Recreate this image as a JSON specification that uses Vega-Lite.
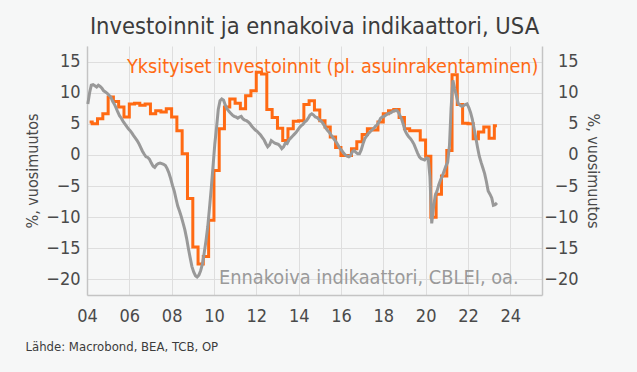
{
  "$schema": "https://vega.github.io/schema/vega-lite/v6.json",
  "width": 455,
  "height": 249,
  "autosize": {"type": "none"},
  "padding": {"left": 87, "top": 46, "right": 95, "bottom": 77},
  "background": "#f6f7f7",
  "title": {
    "text": "Investoinnit ja ennakoiva indikaattori, USA",
    "fontSize": 23.5,
    "fontWeight": "normal",
    "color": "#3c3c3c",
    "font": "DejaVu Sans Condensed",
    "anchor": "middle",
    "offset": 8
  },
  "config": {
    "view": {"stroke": null},
    "font": "DejaVu Sans Condensed"
  },
  "resolve": {"axis": {"y": "independent"}},
  "layer": [
    {
      "data": {"values": [
        {"d":"2004-02-15","v":5.3},{"d":"2004-05-15","v":5.0},{"d":"2004-08-15","v":5.8},{"d":"2004-11-15","v":6.6},
        {"d":"2005-02-15","v":9.3},{"d":"2005-05-15","v":8.6},{"d":"2005-08-15","v":7.7},{"d":"2005-11-15","v":6.1},
        {"d":"2006-02-15","v":8.2},{"d":"2006-05-15","v":8.3},{"d":"2006-08-15","v":8.0},{"d":"2006-11-15","v":8.2},
        {"d":"2007-02-15","v":6.6},{"d":"2007-05-15","v":7.1},{"d":"2007-08-15","v":6.9},{"d":"2007-11-15","v":7.4},
        {"d":"2008-02-15","v":6.1},{"d":"2008-05-15","v":3.9},{"d":"2008-08-15","v":0.2},{"d":"2008-11-15","v":-7.0},
        {"d":"2009-02-15","v":-14.8},{"d":"2009-05-15","v":-17.5},{"d":"2009-08-15","v":-16.3},{"d":"2009-11-15","v":-10.5},
        {"d":"2010-02-15","v":-2.5},{"d":"2010-05-15","v":4.2},{"d":"2010-08-15","v":7.7},{"d":"2010-11-15","v":9.0},
        {"d":"2011-02-15","v":8.3},{"d":"2011-05-15","v":7.4},{"d":"2011-08-15","v":9.5},{"d":"2011-11-15","v":10.3},
        {"d":"2012-02-15","v":13.3},{"d":"2012-05-15","v":13.0},{"d":"2012-08-15","v":7.3},{"d":"2012-11-15","v":6.0},
        {"d":"2013-02-15","v":4.3},{"d":"2013-05-15","v":2.3},{"d":"2013-08-15","v":4.2},{"d":"2013-11-15","v":5.4},
        {"d":"2014-02-15","v":5.5},{"d":"2014-05-15","v":8.1},{"d":"2014-08-15","v":8.7},{"d":"2014-11-15","v":7.2},
        {"d":"2015-02-15","v":5.5},{"d":"2015-05-15","v":4.5},{"d":"2015-08-15","v":2.9},{"d":"2015-11-15","v":1.2},
        {"d":"2016-02-15","v":-0.1},{"d":"2016-05-15","v":-0.1},{"d":"2016-08-15","v":1.0},{"d":"2016-11-15","v":2.1},
        {"d":"2017-02-15","v":3.3},{"d":"2017-05-15","v":4.2},{"d":"2017-08-15","v":4.0},{"d":"2017-11-15","v":5.3},
        {"d":"2018-02-15","v":6.6},{"d":"2018-05-15","v":7.1},{"d":"2018-08-15","v":7.3},{"d":"2018-11-15","v":6.0},
        {"d":"2019-02-15","v":4.2},{"d":"2019-05-15","v":3.9},{"d":"2019-08-15","v":3.9},{"d":"2019-11-15","v":2.4},
        {"d":"2020-02-15","v":-0.2},{"d":"2020-05-15","v":-10.0},{"d":"2020-08-15","v":-6.3},{"d":"2020-11-15","v":-3.4},
        {"d":"2021-02-15","v":0.7},{"d":"2021-05-15","v":12.9},{"d":"2021-08-15","v":8.1},{"d":"2021-11-15","v":5.1},
        {"d":"2022-02-15","v":5.0},{"d":"2022-05-15","v":2.6},{"d":"2022-08-15","v":3.7},{"d":"2022-11-15","v":4.5},
        {"d":"2023-02-15","v":2.7},{"d":"2023-05-15","v":4.7}
      ]},
      "mark": {"type": "line", "interpolate": "step", "color": "#ff6a13", "strokeWidth": 3},
      "encoding": {
        "x": {
          "field": "d", "type": "temporal",
          "scale": {"type": "utc", "domain": [{"year": 2004, "month": 1, "date": 1, "utc": true}, {"year": 2025, "month": 7, "date": 1, "utc": true}]},
          "axis": {
            "labelExpr": "utcFormat(datum.value, '%y')",
            "tickCount": {"interval": "year", "step": 2},
            "grid": true, "gridColor": "#dedede", "gridWidth": 1,
            "domainColor": "#c4c4c4", "domainWidth": 1.5,
            "ticks": false, "labelPadding": 12, "labelFlush": false, "labelOverlap": false,
            "labelFontSize": 18, "labelColor": "#4a4a4a",
            "title": "Lähde: Macrobond, BEA, TCB, OP",
            "titleAnchor": "start", "titleAlign": "left", "titleBaseline": "middle",
            "titleX": -62, "titleY": 51,
            "titleFontSize": 13, "titleFontWeight": "normal", "titleColor": "#3c3c3c"
          }
        },
        "y": {
          "field": "v", "type": "quantitative",
          "scale": {"domain": [-22.5, 17.5], "nice": false, "zero": false},
          "axis": {
            "orient": "left",
            "values": [-20, -15, -10, -5, 0, 5, 10, 15],
            "grid": true, "gridColor": "#dedede", "gridWidth": 1,
            "domainColor": "#c4c4c4", "domainWidth": 1.5,
            "ticks": false, "labelPadding": 7,
            "labelFontSize": 18, "labelColor": "#4a4a4a",
            "title": "%, vuosimuutos",
            "titleFontSize": 16, "titleFontWeight": "normal", "titleColor": "#4a4a4a",
            "titlePadding": 5
          }
        }
      }
    },
    {
      "data": {"values": [
        {"d":"2004-01-15","v":8.2},{"d":"2004-02-15","v":10.0},{"d":"2004-03-15","v":11.2},{"d":"2004-04-15","v":11.3},{"d":"2004-05-15","v":11.1},{"d":"2004-06-15","v":10.9},{"d":"2004-07-15","v":11.2},{"d":"2004-08-15","v":11.0},{"d":"2004-09-15","v":10.7},{"d":"2004-10-15","v":10.3},{"d":"2004-11-15","v":10.1},{"d":"2004-12-15","v":9.9},
        {"d":"2005-01-15","v":9.6},{"d":"2005-02-15","v":9.3},{"d":"2005-03-15","v":8.7},{"d":"2005-04-15","v":8.2},{"d":"2005-05-15","v":7.6},{"d":"2005-06-15","v":6.9},{"d":"2005-07-15","v":6.3},{"d":"2005-08-15","v":5.9},{"d":"2005-09-15","v":5.4},{"d":"2005-10-15","v":5.0},{"d":"2005-11-15","v":4.6},{"d":"2005-12-15","v":4.2},
        {"d":"2006-01-15","v":3.9},{"d":"2006-02-15","v":3.5},{"d":"2006-03-15","v":3.1},{"d":"2006-04-15","v":2.7},{"d":"2006-05-15","v":2.3},{"d":"2006-06-15","v":1.8},{"d":"2006-07-15","v":1.2},{"d":"2006-08-15","v":0.6},{"d":"2006-09-15","v":0.1},{"d":"2006-10-15","v":-0.3},{"d":"2006-11-15","v":-0.4},{"d":"2006-12-15","v":-0.7},
        {"d":"2007-01-15","v":-1.3},{"d":"2007-02-15","v":-1.8},{"d":"2007-03-15","v":-2.0},{"d":"2007-04-15","v":-1.6},{"d":"2007-05-15","v":-1.4},{"d":"2007-06-15","v":-1.3},{"d":"2007-07-15","v":-1.4},{"d":"2007-08-15","v":-1.5},{"d":"2007-09-15","v":-1.7},{"d":"2007-10-15","v":-2.2},{"d":"2007-11-15","v":-2.9},{"d":"2007-12-15","v":-3.8},
        {"d":"2008-01-15","v":-4.9},{"d":"2008-02-15","v":-5.8},{"d":"2008-03-15","v":-7.0},{"d":"2008-04-15","v":-8.2},{"d":"2008-05-15","v":-9.0},{"d":"2008-06-15","v":-9.9},{"d":"2008-07-15","v":-10.9},{"d":"2008-08-15","v":-12.0},{"d":"2008-09-15","v":-13.4},{"d":"2008-10-15","v":-15.0},{"d":"2008-11-15","v":-16.5},{"d":"2008-12-15","v":-17.9},
        {"d":"2009-01-15","v":-18.8},{"d":"2009-02-15","v":-19.4},{"d":"2009-03-15","v":-19.6},{"d":"2009-04-15","v":-19.3},{"d":"2009-05-15","v":-18.6},{"d":"2009-06-15","v":-17.5},{"d":"2009-07-15","v":-15.8},{"d":"2009-08-15","v":-13.8},{"d":"2009-09-15","v":-11.5},{"d":"2009-10-15","v":-8.5},{"d":"2009-11-15","v":-5.3},{"d":"2009-12-15","v":-1.8},
        {"d":"2010-01-15","v":1.8},{"d":"2010-02-15","v":4.5},{"d":"2010-03-15","v":7.3},{"d":"2010-04-15","v":8.7},{"d":"2010-05-15","v":9.0},{"d":"2010-06-15","v":8.8},{"d":"2010-07-15","v":8.0},{"d":"2010-08-15","v":7.4},{"d":"2010-09-15","v":7.0},{"d":"2010-10-15","v":6.7},{"d":"2010-11-15","v":6.4},{"d":"2010-12-15","v":6.2},
        {"d":"2011-01-15","v":6.1},{"d":"2011-02-15","v":5.9},{"d":"2011-03-15","v":6.1},{"d":"2011-04-15","v":6.2},{"d":"2011-05-15","v":5.8},{"d":"2011-06-15","v":5.6},{"d":"2011-07-15","v":5.5},{"d":"2011-08-15","v":5.3},{"d":"2011-09-15","v":5.0},{"d":"2011-10-15","v":4.6},{"d":"2011-11-15","v":4.3},{"d":"2011-12-15","v":4.0},
        {"d":"2012-01-15","v":3.8},{"d":"2012-02-15","v":3.5},{"d":"2012-03-15","v":3.2},{"d":"2012-04-15","v":2.8},{"d":"2012-05-15","v":2.4},{"d":"2012-06-15","v":1.8},{"d":"2012-07-15","v":1.3},{"d":"2012-08-15","v":1.6},{"d":"2012-09-15","v":2.3},{"d":"2012-10-15","v":2.1},{"d":"2012-11-15","v":1.9},{"d":"2012-12-15","v":1.8},
        {"d":"2013-01-15","v":1.7},{"d":"2013-02-15","v":1.4},{"d":"2013-03-15","v":1.0},{"d":"2013-04-15","v":1.3},{"d":"2013-05-15","v":1.9},{"d":"2013-06-15","v":1.8},{"d":"2013-07-15","v":2.4},{"d":"2013-08-15","v":2.7},{"d":"2013-09-15","v":3.0},{"d":"2013-10-15","v":3.3},{"d":"2013-11-15","v":3.6},{"d":"2013-12-15","v":4.0},
        {"d":"2014-01-15","v":4.4},{"d":"2014-02-15","v":4.7},{"d":"2014-03-15","v":4.9},{"d":"2014-04-15","v":5.3},{"d":"2014-05-15","v":5.5},{"d":"2014-06-15","v":5.9},{"d":"2014-07-15","v":6.4},{"d":"2014-08-15","v":6.6},{"d":"2014-09-15","v":6.4},{"d":"2014-10-15","v":6.1},{"d":"2014-11-15","v":6.0},{"d":"2014-12-15","v":5.7},
        {"d":"2015-01-15","v":5.5},{"d":"2015-02-15","v":5.2},{"d":"2015-03-15","v":4.8},{"d":"2015-04-15","v":4.3},{"d":"2015-05-15","v":3.9},{"d":"2015-06-15","v":3.6},{"d":"2015-07-15","v":3.2},{"d":"2015-08-15","v":2.8},{"d":"2015-09-15","v":2.4},{"d":"2015-10-15","v":2.0},{"d":"2015-11-15","v":1.5},{"d":"2015-12-15","v":1.0},
        {"d":"2016-01-15","v":0.7},{"d":"2016-02-15","v":0.3},{"d":"2016-03-15","v":0.0},{"d":"2016-04-15","v":-0.2},{"d":"2016-05-15","v":-0.3},{"d":"2016-06-15","v":-0.1},{"d":"2016-07-15","v":0.5},{"d":"2016-08-15","v":0.7},{"d":"2016-09-15","v":0.4},{"d":"2016-10-15","v":0.2},{"d":"2016-11-15","v":0.2},{"d":"2016-12-15","v":0.8},
        {"d":"2017-01-15","v":1.8},{"d":"2017-02-15","v":2.6},{"d":"2017-03-15","v":3.0},{"d":"2017-04-15","v":3.4},{"d":"2017-05-15","v":3.7},{"d":"2017-06-15","v":4.0},{"d":"2017-07-15","v":4.2},{"d":"2017-08-15","v":4.6},{"d":"2017-09-15","v":4.8},{"d":"2017-10-15","v":5.3},{"d":"2017-11-15","v":5.9},{"d":"2017-12-15","v":6.1},
        {"d":"2018-01-15","v":6.2},{"d":"2018-02-15","v":6.4},{"d":"2018-03-15","v":6.6},{"d":"2018-04-15","v":6.7},{"d":"2018-05-15","v":6.8},{"d":"2018-06-15","v":7.0},{"d":"2018-07-15","v":7.1},{"d":"2018-08-15","v":7.2},{"d":"2018-09-15","v":6.9},{"d":"2018-10-15","v":6.3},{"d":"2018-11-15","v":5.7},{"d":"2018-12-15","v":4.8},
        {"d":"2019-01-15","v":3.8},{"d":"2019-02-15","v":3.3},{"d":"2019-03-15","v":2.9},{"d":"2019-04-15","v":2.6},{"d":"2019-05-15","v":2.2},{"d":"2019-06-15","v":1.7},{"d":"2019-07-15","v":1.0},{"d":"2019-08-15","v":0.3},{"d":"2019-09-15","v":-0.3},{"d":"2019-10-15","v":-0.6},{"d":"2019-11-15","v":-0.7},{"d":"2019-12-15","v":-0.8},
        {"d":"2020-01-15","v":-0.5},{"d":"2020-02-15","v":-0.6},{"d":"2020-03-15","v":-3.5},{"d":"2020-04-15","v":-11.0},{"d":"2020-05-15","v":-8.5},{"d":"2020-06-15","v":-6.5},{"d":"2020-07-15","v":-5.8},{"d":"2020-08-15","v":-4.8},{"d":"2020-09-15","v":-4.0},{"d":"2020-10-15","v":-3.4},{"d":"2020-11-15","v":-2.6},{"d":"2020-12-15","v":-1.8},
        {"d":"2021-01-15","v":-1.2},{"d":"2021-02-15","v":1.5},{"d":"2021-03-15","v":7.5},{"d":"2021-04-15","v":12.0},{"d":"2021-05-15","v":10.7},{"d":"2021-06-15","v":9.5},{"d":"2021-07-15","v":8.3},{"d":"2021-08-15","v":8.0},{"d":"2021-09-15","v":7.8},{"d":"2021-10-15","v":7.9},{"d":"2021-11-15","v":8.1},{"d":"2021-12-15","v":8.2},
        {"d":"2022-01-15","v":7.6},{"d":"2022-02-15","v":6.8},{"d":"2022-03-15","v":5.8},{"d":"2022-04-15","v":4.3},{"d":"2022-05-15","v":2.8},{"d":"2022-06-15","v":1.2},{"d":"2022-07-15","v":-0.2},{"d":"2022-08-15","v":-1.2},{"d":"2022-09-15","v":-2.1},{"d":"2022-10-15","v":-3.0},{"d":"2022-11-15","v":-4.3},{"d":"2022-12-15","v":-5.8},
        {"d":"2023-01-15","v":-6.3},{"d":"2023-02-15","v":-6.9},{"d":"2023-03-15","v":-8.1},{"d":"2023-04-15","v":-8.0},{"d":"2023-05-15","v":-7.7}
      ]},
      "mark": {"type": "line", "color": "#999999", "strokeWidth": 3},
      "encoding": {
        "x": {"field": "d", "type": "temporal"},
        "y": {
          "field": "v", "type": "quantitative",
          "axis": {
            "orient": "right",
            "values": [-20, -15, -10, -5, 0, 5, 10, 15],
            "grid": false,
            "domainColor": "#c4c4c4", "domainWidth": 1.5,
            "ticks": false, "labelPadding": 36, "labelAlign": "right",
            "labelFontSize": 18, "labelColor": "#4a4a4a",
            "title": "%, vuosimuutos", "titleAngle": 90,
            "titleFontSize": 16, "titleFontWeight": "normal", "titleColor": "#4a4a4a",
            "titlePadding": 6
          }
        }
      }
    },
    {
      "data": {"values": [{"d": "2005-11-20", "v": 13.2, "t": "Yksityiset investoinnit (pl. asuinrakentaminen)"}]},
      "mark": {"type": "text", "align": "left", "baseline": "alphabetic", "fontSize": 19.7, "color": "#ff6a13", "font": "DejaVu Sans Condensed"},
      "encoding": {
        "x": {"field": "d", "type": "temporal"},
        "y": {"field": "v", "type": "quantitative", "axis": null},
        "text": {"field": "t"}
      }
    },
    {
      "data": {"values": [{"d": "2010-03-28", "v": -20.8, "t": "Ennakoiva indikaattori, CBLEI, oa."}]},
      "mark": {"type": "text", "align": "left", "baseline": "alphabetic", "fontSize": 19.8, "color": "#9a9a9a", "font": "DejaVu Sans Condensed"},
      "encoding": {
        "x": {"field": "d", "type": "temporal"},
        "y": {"field": "v", "type": "quantitative", "axis": null},
        "text": {"field": "t"}
      }
    }
  ]
}
